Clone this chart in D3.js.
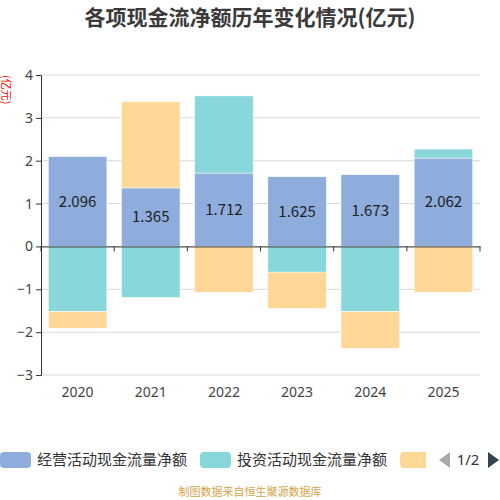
<!DOCTYPE html>
<html>
<head>
<meta charset="utf-8">
<script src="https://cdn.jsdelivr.net/npm/d3@7/dist/d3.min.js"></script>
<style>
  body { margin: 0; background: #fff; }
  svg { display: block; font-family: "Noto Sans CJK SC", "Noto Sans", sans-serif; }
</style>
</head>
<body>
<div id="container"></div>
<script>
// chart data
var years = ["2020", "2021", "2022", "2023", "2024", "2025"];
var operating = [2.096, 1.365, 1.712, 1.625, 1.673, 2.062];
var investing = [-1.52, -1.19, 1.80, -0.60, -1.52, 0.21];
var financing = [-0.39, 2.01, -1.07, -0.85, -0.86, -1.07];
var seriesNames = ["经营活动现金流量净额", "投资活动现金流量净额", "筹资活动现金流量净额"];
var colors = ["#8eacdc", "#88d7da", "#ffd898"];
var yTicks = [-3, -2, -1, 0, 1, 2, 3, 4];

var width = 500, height = 500;
var margin = {top: 75, right: 20, bottom: 125, left: 41};

var svg = d3.select("#container")
  .append("svg")
    .attr("width", width)
    .attr("height", height);

var x = d3.scaleBand()
  .domain(years)
  .range([margin.left, width - margin.right])
  .paddingInner(0.2)
  .paddingOuter(0.1);

var y = d3.scaleLinear()
  .domain([-3, 4])
  .range([height - margin.bottom, margin.top]);

// grid lines
svg.append("g")
  .selectAll("line")
  .data(yTicks)
  .enter()
  .append("line")
    .attr("x1", margin.left)
    .attr("x2", width - margin.right)
    .attr("y1", function(d){ return y(d); })
    .attr("y2", function(d){ return y(d); })
    .attr("stroke", "#d9d9d9")
    .attr("stroke-width", 1);

// stack positives up and negatives down, per category
var all = [operating, investing, financing];
var rects = [];
years.forEach(function(yr, i) {
  var pos = 0, neg = 0;
  all.forEach(function(series, s) {
    var v = series[i];
    var y0, y1;
    if (v >= 0) { y0 = pos; y1 = pos + v; pos = y1; }
    else { y0 = neg; y1 = neg + v; neg = y1; }
    rects.push({year: yr, s: s, y0: y0, y1: y1, v: v});
  });
});

svg.append("g")
  .selectAll("rect")
  .data(rects)
  .enter()
  .append("rect")
    .attr("x", function(d){ return x(d.year); })
    .attr("width", x.bandwidth())
    .attr("y", function(d){ return y(Math.max(d.y0, d.y1)); })
    .attr("height", function(d){ return Math.abs(y(d.y0) - y(d.y1)); })
    .attr("fill", function(d){ return colors[d.s]; })
    .attr("stroke", "#fff")
    .attr("stroke-width", 0.5);

// value labels on operating bars
svg.append("g")
  .selectAll("text")
  .data(years)
  .enter()
  .append("text")
    .attr("x", function(d){ return x(d) + x.bandwidth() / 2; })
    .attr("y", function(d, i){ return y(operating[i] / 2); })
    .attr("dy", "0.35em")
    .attr("text-anchor", "middle")
    .attr("font-size", "15px")
    .attr("fill", "#222")
    .text(function(d, i){ return operating[i].toFixed(3); });

// y axis
var yAxis = svg.append("g")
  .attr("transform", "translate(" + margin.left + ",0)")
  .call(d3.axisLeft(y).tickValues(yTicks).tickSize(5).tickFormat(d3.format("d")));
yAxis.select(".domain").attr("stroke", "#333");
yAxis.selectAll(".tick line").attr("stroke", "#333");
yAxis.selectAll("text").attr("font-size", "14px").attr("fill", "#444")
  .attr("font-family", "'Noto Sans', sans-serif");

// x axis at zero
var xAxis = svg.append("g")
  .attr("transform", "translate(0," + y(0) + ")")
  .call(d3.axisBottom(x).tickSize(0).tickFormat(""));
xAxis.select(".domain").attr("stroke", "#333");

// boundary ticks of the category axis
var step = x.step();
var bounds = d3.range(years.length + 1).map(function(i){ return margin.left + i * step; });
svg.append("g")
  .selectAll("line")
  .data(bounds)
  .enter()
  .append("line")
    .attr("x1", function(d){ return d; })
    .attr("x2", function(d){ return d; })
    .attr("y1", y(0))
    .attr("y2", y(0) + 5)
    .attr("stroke", "#333");

// year labels below the plot
svg.append("g")
  .selectAll("text")
  .data(years)
  .enter()
  .append("text")
    .attr("x", function(d){ return x(d) + x.bandwidth() / 2; })
    .attr("y", y(-3) + 22)
    .attr("text-anchor", "middle")
    .attr("font-size", "14px")
    .attr("font-family", "'Noto Sans', sans-serif")
    .attr("fill", "#444")
    .text(function(d){ return d; });

// title
svg.append("text")
  .attr("x", width / 2)
  .attr("y", 25)
  .attr("text-anchor", "middle")
  .attr("font-size", "21px")
  .attr("font-weight", "bold")
  .attr("fill", "#3a3a3a")
  .text("各项现金流净额历年变化情况(亿元)");

// y unit
svg.append("text")
  .attr("transform", "translate(2,75) rotate(90)")
  .attr("font-size", "11px")
  .attr("fill", "#ff0000")
  .text("(亿元)");

// legend (scrollable, first page only shows part of the third item)
var legendX = [0, 200, 400];
svg.append("clipPath").attr("id", "legclip")
  .append("rect").attr("x", 0).attr("y", -10).attr("width", 426).attr("height", 40);
var legend = svg.append("g")
  .attr("transform", "translate(0,452)")
  .append("g")
  .attr("clip-path", "url(#legclip)");
var items = legend.selectAll("g")
  .data(seriesNames)
  .enter()
  .append("g")
    .attr("transform", function(d, i){ return "translate(" + legendX[i] + ",0)"; });
items.append("rect")
  .attr("width", 31)
  .attr("height", 16)
  .attr("rx", 4)
  .attr("fill", function(d, i){ return colors[i]; });
items.append("text")
  .attr("x", 37)
  .attr("y", 8)
  .attr("dy", "0.35em")
  .attr("font-size", "15px")
  .attr("fill", "#333")
  .text(function(d){ return d; });

// legend pager
svg.append("path")
  .attr("d", "M450,452 L450,468 L439,460 Z")
  .attr("fill", "#aaa");
svg.append("text")
  .attr("x", 468)
  .attr("y", 460)
  .attr("dy", "0.35em")
  .attr("text-anchor", "middle")
  .attr("font-size", "15px")
  .attr("font-family", "'Noto Sans', sans-serif")
  .attr("fill", "#333")
  .text("1/2");
svg.append("path")
  .attr("d", "M488,452 L488,468 L499,460 Z")
  .attr("fill", "#2f4554");

// source note
svg.append("text")
  .attr("x", width / 2)
  .attr("y", 496)
  .attr("text-anchor", "middle")
  .attr("font-size", "11px")
  .attr("fill", "#d4a448")
  .text("制图数据来自恒生聚源数据库");
</script>
</body>
</html>
